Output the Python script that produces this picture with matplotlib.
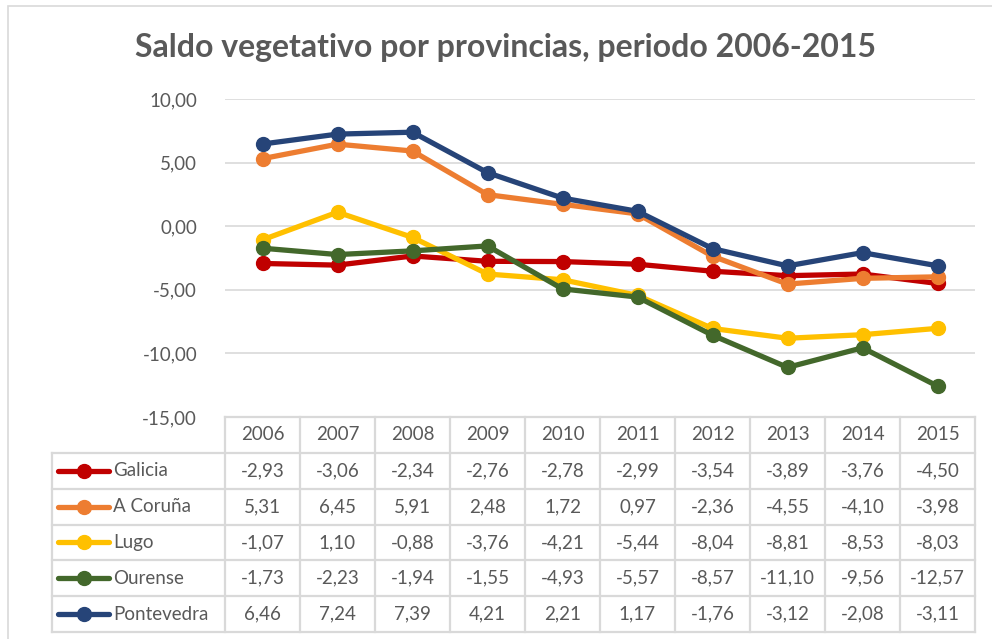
import matplotlib.pyplot as plt
from matplotlib.patches import Rectangle

plt.rcParams['font.family'] = ['Lato', 'DejaVu Sans']

years = ['2006', '2007', '2008', '2009', '2010', '2011', '2012', '2013', '2014', '2015']
series_names = ['Galicia', 'A Coruña', 'Lugo', 'Ourense', 'Pontevedra']
galicia = [-2.93, -3.06, -2.34, -2.76, -2.78, -2.99, -3.54, -3.89, -3.76, -4.50]
coruna = [5.31, 6.45, 5.91, 2.48, 1.72, 0.97, -2.36, -4.55, -4.10, -3.98]
lugo = [-1.07, 1.10, -0.88, -3.76, -4.21, -5.44, -8.04, -8.81, -8.53, -8.03]
ourense = [-1.73, -2.23, -1.94, -1.55, -4.93, -5.57, -8.57, -11.10, -9.56, -12.57]
pontevedra = [6.46, 7.24, 7.39, 4.21, 2.21, 1.17, -1.76, -3.12, -2.08, -3.11]
colors = ['#C00000', '#ED7D31', '#FFC000', '#43682B', '#264478']
yticks = [-15, -10, -5, 0, 5, 10]

all_series = [galicia, coruna, lugo, ourense, pontevedra]
txt = '#595959'
grid = '#D9D9D9'

W, H = 992, 639
fig = plt.figure(figsize=(W / 100, H / 100), dpi=100)

# outer chart frame
fig.patches.append(Rectangle((8 / W, -0.05), 1.1, (H - 6) / H + 0.05,
                             transform=fig.transFigure, fill=False,
                             edgecolor=grid, linewidth=1.2))

fig.text(0.5 * (133 + 878) / W, 1 - 48 / H,
         'Saldo vegetativo por provincias, periodo 2006-2015',
         ha='center', va='center', fontsize=23, fontweight='bold', color=txt)

# plot area
x0, x1, ytop, ybot = 225, 975, 99, 417
ax = fig.add_axes([x0 / W, 1 - ybot / H, (x1 - x0) / W, (ybot - ytop) / H])
xs = list(range(len(years)))
for vals, c in zip(all_series, colors):
    ax.plot(xs, vals, color=c, lw=3.8, marker='o', ms=10, solid_capstyle='round')
ax.set_xlim(-0.5, len(years) - 0.5)
ax.set_ylim(-15, 10)
ax.set_yticks(yticks)
ax.set_yticklabels([f'{v:.2f}'.replace('.', ',') for v in yticks])
ax.set_xticks([])
ax.tick_params(axis='y', length=0, pad=20, labelsize=13.5, labelcolor=txt)
for s in ax.spines.values():
    s.set_visible(False)
ax.grid(axis='y', color=grid, lw=1.2)
ax.set_axisbelow(True)

# data table
tl, tb = 52, 632
unit = (x1 - x0) / len(years)
legw = (x0 - tl) / unit
tax = fig.add_axes([tl / W, 1 - tb / H, (x1 - tl) / W, (tb - ybot) / H])
tax.set_xlim(-0.5 - legw, len(years) - 0.5)
tax.set_ylim(0, 6)
tax.axis('off')
n = len(series_names)
lk = dict(color=grid, lw=1.6, clip_on=False)
for k in range(len(years) + 1):
    tax.plot([k - 0.5, k - 0.5], [0, n + 1], **lk)
tax.plot([-0.5 - legw, -0.5 - legw], [0, n], **lk)
for r in range(n + 1):
    tax.plot([-0.5 - legw, len(years) - 0.5], [r, r], **lk)
tax.plot([-0.5, len(years) - 0.5], [n + 1, n + 1], **lk)

for i, y in enumerate(years):
    tax.text(i, n + 0.5, y, ha='center', va='center', fontsize=13.5, color=txt)


def px(p):
    return -0.5 - legw + (p - tl) / unit


for r, (name, vals, c) in enumerate(zip(series_names, all_series, colors)):
    yc = n - r - 0.5
    tax.plot([px(58), px(109)], [yc, yc], color=c, lw=3.8, solid_capstyle='round')
    tax.plot([px(84)], [yc], 'o', color=c, ms=10)
    tax.text(px(113), yc, name, ha='left', va='center', fontsize=13.5, color=txt)
    for i, v in enumerate(vals):
        tax.text(i, yc, f'{v:.2f}'.replace('.', ','), ha='center', va='center',
                 fontsize=13.5, color=txt)

fig.savefig('out.png', dpi=100)
